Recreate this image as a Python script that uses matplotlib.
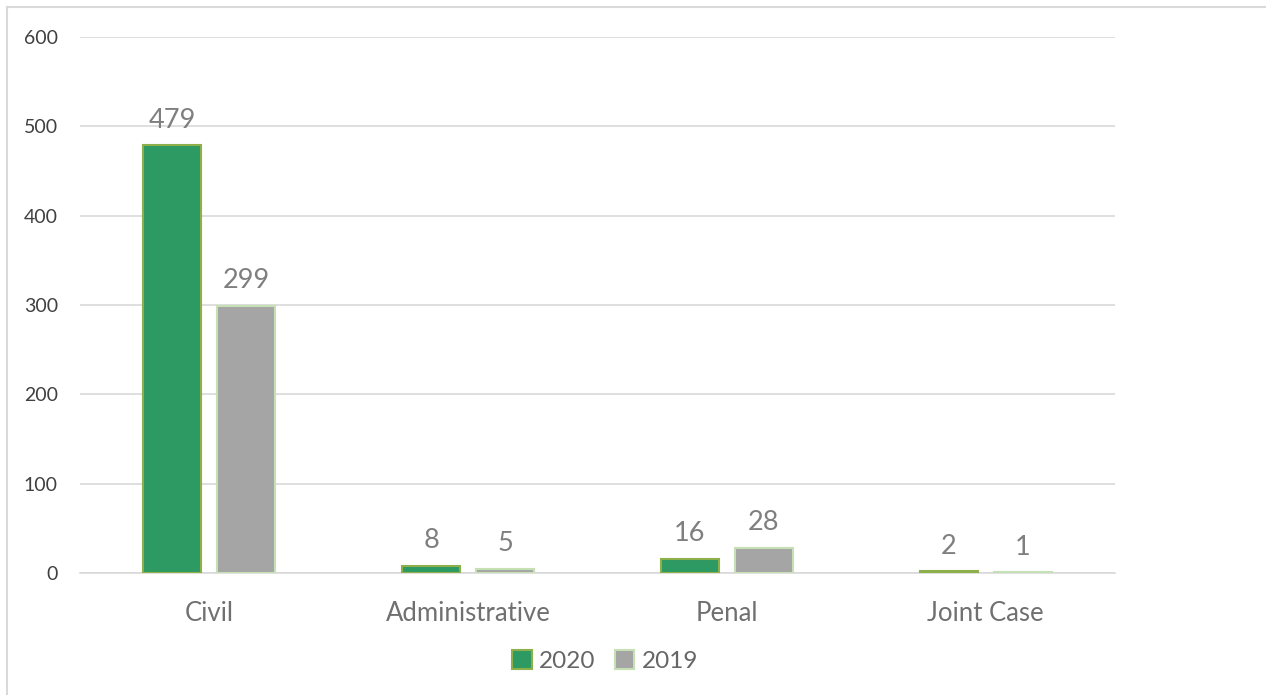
import matplotlib
matplotlib.use("Agg")
import matplotlib.pyplot as plt
import numpy as np
from matplotlib.lines import Line2D

categories = ["Civil", "Administrative", "Penal", "Joint Case"]
series_names = ["2020", "2019"]
values_2020 = [479, 8, 16, 2]
values_2019 = [299, 5, 28, 1]

plt.rcParams['font.family'] = ['Lato', 'DejaVu Sans']

fig = plt.figure(figsize=(12.66, 6.95), dpi=100)
ax = fig.add_axes([80/1266, 1 - 573/695, (1115-80)/1266, (573-37)/695])

x = np.arange(len(categories))
w = 0.224
off = 0.143
b1 = ax.bar(x - off, values_2020, w, color="#2E9A63", edgecolor="#8DB04A", linewidth=1.5, label=series_names[0], zorder=3)
b2 = ax.bar(x + off, values_2019, w, color="#A5A5A5", edgecolor="#C5E0B4", linewidth=1.5, label=series_names[1], zorder=3)

for bars, vals in ((b1, values_2020), (b2, values_2019)):
    for r, v in zip(bars, vals):
        ax.annotate(str(v), (r.get_x() + r.get_width()/2, v), xytext=(0, 9), textcoords="offset points",
                    ha="center", va="bottom", fontsize=19.5, color="#7F7F7F")

ax.set_xlim(-0.5, len(categories) - 0.5)
ax.set_ylim(0, 600)
ax.set_yticks(range(0, 601, 100))
ax.yaxis.grid(True, color="#D9D9D9", linewidth=1.2, zorder=0)
ax.set_xticks(x)
ax.set_xticklabels(categories, fontsize=18.5, color="#707070")
ax.tick_params(axis="y", labelsize=14, labelcolor="#404040", length=0, pad=16)
ax.tick_params(axis="x", length=0, pad=20)
for s in ("top", "right", "left"):
    ax.spines[s].set_visible(False)
ax.spines["bottom"].set_color("#D9D9D9")
ax.spines["bottom"].set_linewidth(1.2)

leg = fig.legend(handles=[b1, b2], labels=series_names, loc="center", bbox_to_anchor=(605/1266, 1 - 661/695),
                 ncol=2, frameon=False, fontsize=17.5, handlelength=0.8, handleheight=0.8,
                 handletextpad=0.3, columnspacing=0.8)
for t in leg.get_texts():
    t.set_color("#666666")

fig.add_artist(Line2D([6.5/1266, 6.5/1266], [0, 1 - 7/695], transform=fig.transFigure, color="#D9D9D9", linewidth=1.5))
fig.add_artist(Line2D([6.5/1266, 1], [1 - 7/695, 1 - 7/695], transform=fig.transFigure, color="#D9D9D9", linewidth=1.5))

fig.savefig("out.png", dpi=100)
